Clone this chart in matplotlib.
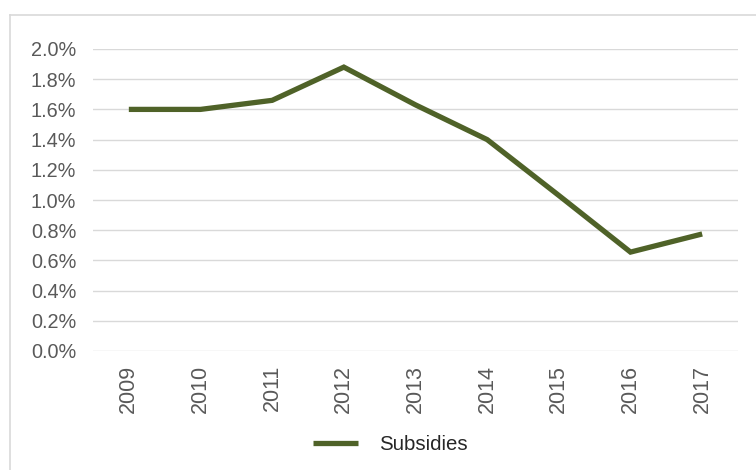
import matplotlib.pyplot as plt
from matplotlib.lines import Line2D
from matplotlib.ticker import FuncFormatter

plt.rcParams['font.family'] = ['Liberation Sans', 'DejaVu Sans']

years = ['2009', '2010', '2011', '2012', '2013', '2014', '2015', '2016', '2017']
subsidies = [1.60, 1.60, 1.66, 1.88, 1.63, 1.40, 1.03, 0.655, 0.775]

fig = plt.figure(figsize=(7.56, 4.70), dpi=100)
ax = fig.add_axes([93 / 756, 1 - 351 / 470, (738 - 93) / 756, (351 - 49) / 470])

x = range(len(years))
ax.plot(x, subsidies, color='#4f6228', linewidth=3.8, solid_capstyle='butt',
        solid_joinstyle='miter', label='Subsidies')

ax.set_xlim(-0.5, len(years) - 0.5)
ax.set_ylim(0, 2.0)
ax.set_yticks([i * 0.2 for i in range(11)])
ax.yaxis.set_major_formatter(FuncFormatter(lambda v, p: f'{v:.1f}%'))
ax.set_xticks(list(x))
ax.set_xticklabels(years, rotation=90)

ax.grid(axis='y', color='#d9d9d9', linewidth=1)
ax.set_axisbelow(True)
for s in ax.spines.values():
    s.set_visible(False)
ax.tick_params(axis='both', length=0, labelcolor='#595959')
ax.tick_params(axis='y', pad=12, labelsize=14.3)
ax.tick_params(axis='x', pad=10, labelsize=15.5)

# chart frame (left and top edges)
fig.add_artist(Line2D([10 / 756, 10 / 756], [0, 1 - 15 / 470], color='#d9d9d9', linewidth=1.2))
fig.add_artist(Line2D([10 / 756, 1], [1 - 15 / 470, 1 - 15 / 470], color='#d9d9d9', linewidth=1.2))

fig.legend(loc='center', bbox_to_anchor=(390 / 756, 1 - 445 / 470), frameon=False,
           fontsize=14.7, handlelength=2.25, handletextpad=1.0, labelcolor='#262626')

fig.savefig('out.png', dpi=100, facecolor='white')
